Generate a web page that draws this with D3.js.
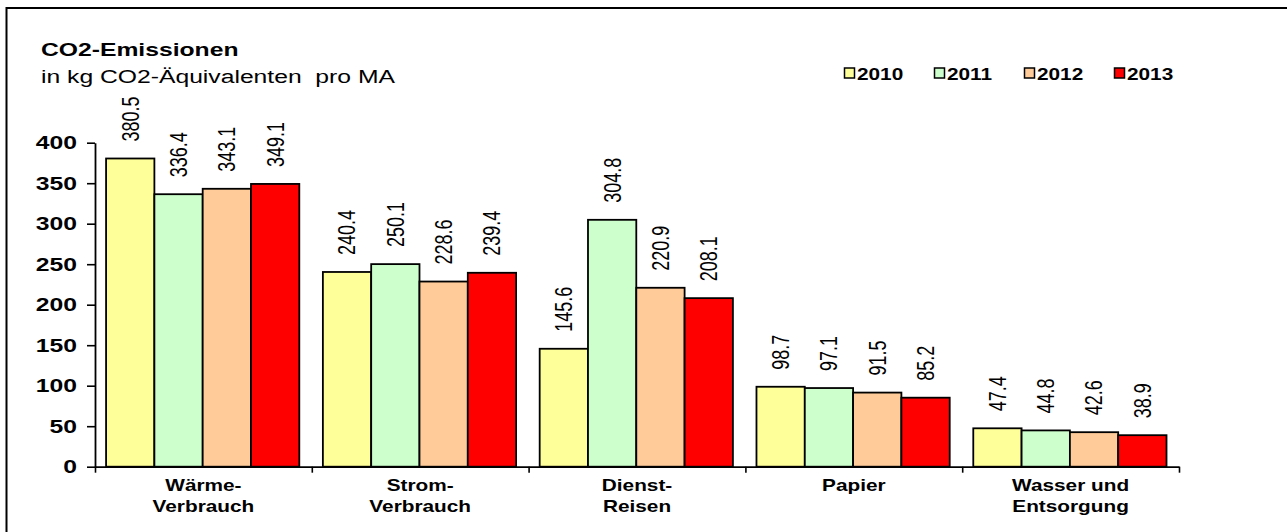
<!DOCTYPE html>
<html>
<head>
<meta charset="utf-8">
<script src="https://cdn.jsdelivr.net/npm/d3@7"></script>
<style>
  html, body { margin: 0; padding: 0; background: #fff; }
  svg { display: block; font-family: "Liberation Sans", Arial, sans-serif; }
  text { white-space: pre; }
</style>
</head>
<body>
<svg id="chart" width="1287" height="532"></svg>
<script>
// Emission categories (line breaks as drawn under the axis)
const categories = ["Wärme-\nVerbrauch", "Strom-\nVerbrauch", "Dienst-\nReisen", "Papier", "Wasser und\nEntsorgung"];
const years = ["2010", "2011", "2012", "2013"];

// kg CO2-equivalents per employee
const values2010 = [380.5, 240.4, 145.6, 98.7, 47.4];
const values2011 = [336.4, 250.1, 304.8, 97.1, 44.8];
const values2012 = [343.1, 228.6, 220.9, 91.5, 42.6];
const values2013 = [349.1, 239.4, 208.1, 85.2, 38.9];

const yTicks = [0, 50, 100, 150, 200, 250, 300, 350, 400];
const yearColors = ["#FFFF99", "#CCFFCC", "#FFCC99", "#FF0000"];

const series = [values2010, values2011, values2012, values2013];
const rows = categories.map((c, i) => ({ cat: c, vals: years.map((y, j) => ({ year: y, value: series[j][i] })) }));

const SX = 1.3; // horizontal text stretch of the layout

const svg = d3.select("#chart");

// outer frame (left and top edges)
svg.append("path")
  .attr("d", "M6.5,532 V8 H1287")
  .attr("fill", "none").attr("stroke", "#000").attr("stroke-width", 2);

const x0 = d3.scaleBand().domain(categories).range([95, 1179]).padding(0);
const x1 = d3.scaleBand().domain(years).range([0, x0.bandwidth()])
  .paddingInner(0).paddingOuter(0.244).align(0.47);
const y = d3.scaleLinear().domain([0, 400]).range([466.7, 142.7]);

function stretchedText(parent, x, yy, str, opts) {
  const g = parent.append("g").attr("transform", `translate(${x},${yy}) scale(${SX},1)` + (opts.rotate ? ` rotate(${opts.rotate})` : ""));
  return g.append("text").text(str)
    .attr("font-size", opts.size)
    .attr("font-weight", opts.bold ? "bold" : "normal")
    .attr("text-anchor", opts.anchor || "start")
    .attr("dominant-baseline", opts.baseline || "auto")
    .attr("fill", "#000");
}

// title
stretchedText(svg, 41, 56, "CO2-Emissionen", { size: 19, bold: true });
stretchedText(svg, 41, 83, "in kg CO2-Äquivalenten  pro MA", { size: 19 });

// bars
const groups = svg.append("g").selectAll("g").data(rows).join("g")
  .attr("transform", d => `translate(${x0(d.cat)},0)`);

groups.selectAll("rect").data(d => d.vals).join("rect")
  .attr("x", d => x1(d.year))
  .attr("y", d => y(d.value))
  .attr("width", x1.bandwidth())
  .attr("height", d => y(0) - y(d.value))
  .attr("fill", (d, i) => yearColors[i])
  .attr("stroke", "#000").attr("stroke-width", 1.8);

// value labels, rotated
groups.each(function(d) {
  const g = d3.select(this);
  d.vals.forEach(v => {
    stretchedText(g, x1(v.year) + x1.bandwidth() / 2, y(v.value) - 17, v.value.toFixed(1),
      { size: 18, rotate: -90, baseline: "central" });
  });
});

// y axis
const yAxis = svg.append("g").attr("transform", "translate(95,0)")
  .call(d3.axisLeft(y).tickValues(yTicks).tickSize(8).tickSizeOuter(0).tickPadding(3));
yAxis.select(".domain").attr("stroke-width", 1.8);
yAxis.selectAll(".tick line").attr("stroke-width", 1.6);
yAxis.selectAll(".tick text")
  .attr("font-family", "Liberation Sans, Arial, sans-serif")
  .attr("font-size", 19).attr("font-weight", "bold").attr("fill", "#000")
  .attr("transform", `scale(${SX},1)`)
  .attr("x", -18 / SX);

// x axis: ticks at category boundaries
const xb = d3.scaleLinear().domain([0, categories.length]).range([95, 1179]);
const xAxis = svg.append("g").attr("transform", `translate(0,${y(0)})`)
  .call(d3.axisBottom(xb).ticks(categories.length).tickSize(6).tickSizeOuter(0).tickFormat(""));
xAxis.select(".domain").attr("stroke-width", 1.8);
xAxis.selectAll(".tick line").attr("stroke-width", 1.6);

// category labels
categories.forEach(c => {
  const cx = x0(c) + x0.bandwidth() / 2;
  c.split("\n").forEach((line, k) => {
    stretchedText(svg, cx, 491 + k * 21, line, { size: 16, bold: true, anchor: "middle" });
  });
});

// legend
const legend = svg.append("g").selectAll("g").data(years).join("g")
  .attr("transform", (d, i) => `translate(${844 + i * 90},0)`);
legend.append("rect")
  .attr("x", 0.5).attr("y", 68).attr("width", 10).attr("height", 10)
  .attr("fill", (d, i) => yearColors[i]).attr("stroke", "#000").attr("stroke-width", 1.5);
legend.each(function(d) {
  stretchedText(d3.select(this), 13, 80, d, { size: 16, bold: true });
});
</script>
</body>
</html>
